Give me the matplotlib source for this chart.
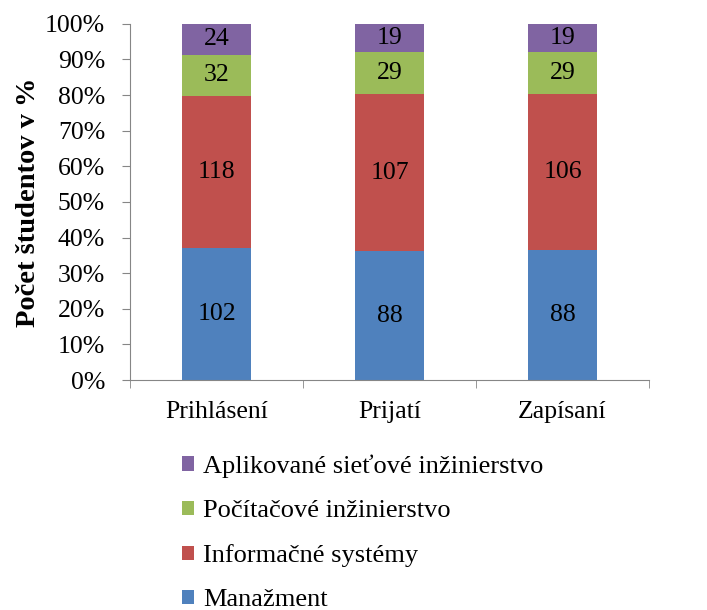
import matplotlib
matplotlib.use("Agg")
import matplotlib.pyplot as plt
import numpy as np
from matplotlib.patches import Patch

plt.rcParams['font.family'] = ['Liberation Serif', 'DejaVu Serif']

categories = ["Prihlásení", "Prijatí", "Zapísaní"]
series_names = ["Manažment", "Informačné systémy", "Počítačové inžinierstvo",
                "Aplikované sieťové inžinierstvo"]
manazment = [102, 88, 88]
informacne = [118, 107, 106]
pocitacove = [32, 29, 29]
aplikovane = [24, 19, 19]
colors = ["#4F81BD", "#C0504D", "#9BBB59", "#8064A2"]

series = [manazment, informacne, pocitacove, aplikovane]
totals = np.sum(np.array(series), axis=0)

FS = 18.5

fig = plt.figure(figsize=(7.07, 6.10), dpi=100)
ax = fig.add_axes([0.184, 0.377, 0.734, 0.584])

x = np.arange(len(categories))
bottom = np.zeros(len(categories))
for vals, col, name in zip(series, colors, series_names):
    frac = np.array(vals) / totals
    ax.bar(x, frac, 0.4, bottom=bottom, color=col, label=name)
    for xi, f, b, v in zip(x, frac, bottom, vals):
        ax.text(xi, b + f / 2, str(v), ha='center', va='center', fontsize=FS)
    bottom += frac

ax.set_xlim(-0.5, 2.5)
ax.set_ylim(0, 1)
ax.set_yticks(np.arange(0, 1.01, 0.1))
ax.set_yticklabels([f"{int(round(t*100))}%" for t in np.arange(0, 1.01, 0.1)], fontsize=FS)
ax.set_xticks(x)
ax.set_xticklabels(categories, fontsize=FS)
ax.set_xticks([-0.5, 0.5, 1.5, 2.5], minor=True)
ax.tick_params(axis='x', which='major', length=0, pad=15)
ax.tick_params(axis='x', which='minor', length=6, color='#868686', direction='out')
ax.tick_params(axis='y', length=6, color='#868686', direction='out', pad=12)
for s in ['top', 'right']:
    ax.spines[s].set_visible(False)
for s in ['left', 'bottom']:
    ax.spines[s].set_color('#868686')
ax.set_ylabel("Počet študentov v %", fontsize=20.5, fontweight='bold', labelpad=3)

handles = [Patch(facecolor=c, edgecolor='none') for c in colors][::-1]
labels = series_names[::-1]
fig.legend(handles, labels, loc='upper left', bbox_to_anchor=(0.257, 0.255),
           frameon=False, fontsize=19, handlelength=0.45, handleheight=0.45,
           handletextpad=0.35, labelspacing=0.84, borderaxespad=0, borderpad=0)

fig.savefig("out.png", dpi=100)
